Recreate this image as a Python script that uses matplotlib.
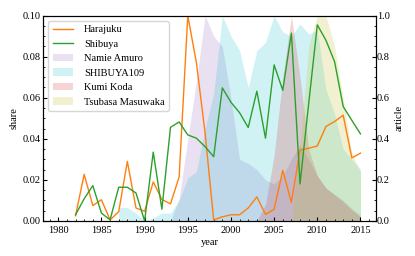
import numpy as np
import matplotlib
matplotlib.use("Agg")
import matplotlib.pyplot as plt
from matplotlib.ticker import AutoMinorLocator

plt.rcParams['font.family'] = ['Liberation Serif', 'DejaVu Serif']
plt.rcParams['font.size'] = 7.5
plt.rcParams['xtick.direction'] = 'in'
plt.rcParams['ytick.direction'] = 'in'

nan = np.nan
years = list(range(1980, 2016))

# share (left axis)
harajuku = [nan, nan, 0.0025, 0.0227, 0.0075, 0.0103, 0.0005, 0.0045, 0.029, 0.0063,
            0.0047, 0.019, 0.0105, 0.0083, 0.0215, 0.100, 0.077, 0.043, 0.0005, 0.002,
            0.003, 0.003, 0.0063, 0.0117, 0.0032, 0.0057, 0.0246, 0.009, 0.0345, 0.0354,
            0.0365, 0.046, 0.0484, 0.0515, 0.0307, 0.033]
shibuya = [nan, nan, 0.003, 0.0108, 0.0172, 0.0038, 0.0005, 0.0164, 0.0164, 0.0136,
           0.0, 0.0335, 0.0057, 0.0456, 0.0482, 0.0419, 0.0403, 0.0362, 0.0313, 0.0648,
           0.0578, 0.0527, 0.0455, 0.0632, 0.0403, 0.076, 0.0636, 0.0915, 0.018, 0.057,
           0.0955, 0.088, 0.0776, 0.0557, 0.049, 0.0424]

# article (right axis)
namie = [0, 0, 0, 0, 0, 0, 0, 0, 0, 0,
         0, 0, 0, 0, 0.11, 0.4, 0.68, 1.0, 0.9, 0.85,
         0.6, 0.3, 0.28, 0.25, 0.2, 0.18, 0.22, 0.3, 0.37, 0.3,
         0.22, 0.16, 0.13, 0.1, 0.06, 0.03]
shibuya109 = [nan, nan, nan, nan, nan, nan, nan, 0.066, 0.066, 0.038,
              0.0, 0.015, 0.038, 0.038, 0.10, 0.21, 0.24, 0.45, 0.62, 1.0,
              0.9, 0.83, 0.65, 0.83, 0.87, 1.0, 0.92, 0.9, 0.96, 0.91,
              0.93, 0.64, 0.52, 0.35, 0.3, 0.25]
kumi = [0, 0, 0, 0, 0, 0, 0, 0, 0, 0,
        0, 0, 0, 0, 0, 0, 0, 0, 0, 0,
        0, 0, 0, 0, 0.08, 0.32, 0.7, 1.0, 0.7, 0.35,
        0.22, 0.16, 0.127, 0.094, 0.054, 0.02]
tsubasa = [0, 0, 0, 0, 0, 0, 0, 0, 0, 0,
           0, 0, 0, 0, 0, 0, 0, 0, 0, 0,
           0, 0, 0, 0, 0, 0, 0, 0, 0.37, 0.85,
           1.0, 1.0, 0.85, 0.6, 0.33, 0.24]

fig = plt.figure(figsize=(4.15, 2.56), dpi=100)
ax1 = fig.add_axes([0.104, 0.137, 0.801, 0.802])
ax2 = ax1.twinx()

ax2.fill_between(years, 0, namie, color='tab:purple', alpha=0.2, lw=0, label='Namie Amuro')
ax2.fill_between(years, 0, shibuya109, color='tab:cyan', alpha=0.2, lw=0, label='SHIBUYA109')
ax2.fill_between(years, 0, kumi, color='tab:red', alpha=0.2, lw=0, label='Kumi Koda')
ax2.fill_between(years, 0, tsubasa, color='tab:olive', alpha=0.2, lw=0, label='Tsubasa Masuwaka')

ax1.plot(years, harajuku, color='tab:orange', lw=1, label='Harajuku')
ax1.plot(years, shibuya, color='tab:green', lw=1, label='Shibuya')

ax1.set_zorder(ax2.get_zorder() + 1)
ax1.patch.set_visible(False)

ax1.set_xlim(1978.25, 2016.75)
ax1.set_ylim(0, 0.1)
ax2.set_ylim(0, 1.0)
ax1.set_xticks([1980, 1985, 1990, 1995, 2000, 2005, 2010, 2015])
ax1.set_yticks([0, 0.02, 0.04, 0.06, 0.08, 0.10])
ax2.set_yticks([0, 0.2, 0.4, 0.6, 0.8, 1.0])
ax1.xaxis.set_minor_locator(AutoMinorLocator())
ax1.yaxis.set_minor_locator(AutoMinorLocator())
ax2.yaxis.set_minor_locator(AutoMinorLocator())
ax1.tick_params(which='major', length=3)
ax1.tick_params(which='minor', length=1.5)
ax1.tick_params(axis='y', pad=1.5)
ax2.tick_params(which='major', length=3, pad=1)
ax2.tick_params(which='minor', length=1.5)

ax1.set_xlabel('year', labelpad=2)
ax1.set_ylabel('share', labelpad=3)
ax2.set_ylabel('article', labelpad=3)

h1, l1 = ax1.get_legend_handles_labels()
h2, l2 = ax2.get_legend_handles_labels()
ax1.legend(h1 + h2, l1 + l2, loc='upper left', handletextpad=1.0)

fig.savefig('out.png', dpi=100)
